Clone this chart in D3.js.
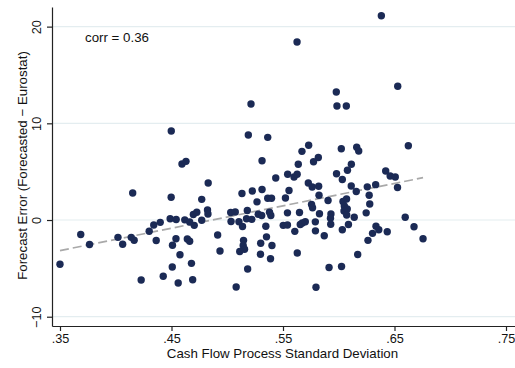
<!DOCTYPE html>
<html>
<head>
<meta charset="utf-8">
<style type="text/css">
  body { margin: 0; background: #fff; }
  svg { display: block; font-family: "Liberation Sans", Arial, Helvetica, sans-serif; }
  .axis path, .axis line { fill: none; stroke: #222; stroke-width: 1.2; }
  .axis text { font-size: 12.7px; fill: #111; }
  .grid line { stroke: #e4edf0; stroke-width: 1.2; }
  .dot { fill: #1b2a55; }
  .fit { fill: none; stroke: #a9a9a9; stroke-width: 1.7; stroke-dasharray: 9,4; }
</style>
</head>
<body>
<div class="svg_container"></div>
<script src="https://cdnjs.cloudflare.com/ajax/libs/d3/7.8.5/d3.min.js"></script>
<script type="text/javascript">
// cash flow process standard deviation (x)
var sdValues = [
  .350,.3686,.3765,.4020,.4062,.4139,.4165,.4152,.4228,.4300,
  .4341,.4363,.4399,.4426,.4497,.4488,.4542,.4540,.4509,.4576,
  .4507,.4560,.4619,.4642,.4663,.4679,.4690,.4696,.4727,.4704,
  .4663,.4498,.4594,.4630,.4771,.4829,.4823,.4827,.4771,.4914,
  .4935,.5080,.5031,.5072,.5034,.5105,.5132,.5225,.5137,.5180,
  .5173,.5220,.5146,.5143,.5155,.5112,.5183,.5267,.5278,.5309,
  .5300,.5298,.5213,.5189,.5363,.5312,.5312,.5363,.5397,.5379,
  .5391,.5346,.5352,.5401,.5388,.5435,.5542,.5522,.5554,.5540,
  .5502,.5540,.5599,.5627,.5626,.5730,.5670,.5637,.5774,.5817,
  .5727,.5762,.5820,.5823,.5904,.5756,.5765,.5648,.5827,.5655,
  .5673,.5700,.5606,.5628,.5796,.5790,.5791,.5870,.5930,.5926,
  .5928,.5913,.6025,.6170,.5978,.5984,.6068,.6023,.6161,.6179,
  .6113,.6078,.5980,.6032,.6112,.6157,.6038,.6070,.6050,.6076,
  .6047,.6071,.6139,.6032,.6087,.6246,.6256,.6331,.6273,.6278,
  .6334,.6359,.6303,.6262,.6421,.6461,.6507,.6527,.6435,.6596,
  .6675,.6756,.6382,.6529,.6624
];

// forecast error, forecasted - eurostat (y)
var errValues = [
  -4.58,-1.50,-2.53,-1.79,-2.50,-1.79,-2.09,2.79,-6.20,-1.16,
  -0.52,-2.12,-0.24,-5.81,2.35,0.13,0.05,-1.93,-2.61,-3.59,
  -4.86,-6.51,0.02,-1.96,-2.19,-4.48,-6.17,0.57,0.80,-0.55,
  -0.21,9.20,5.79,6.07,2.14,3.83,1.03,0.62,-0.02,-1.55,
  -3.21,-6.93,0.78,0.83,-0.16,-0.18,2.74,3.00,-0.67,0.98,
  0.13,0.07,-2.10,-2.64,-3.02,-3.26,-5.07,1.88,0.59,0.47,
  -2.40,-3.54,12.00,8.79,8.55,6.13,3.15,2.25,2.25,0.81,
  0.47,-0.65,-1.74,-2.64,-4.01,4.34,4.73,2.28,3.05,0.74,
  -0.55,-0.52,4.45,4.74,18.41,7.74,7.10,5.76,6.02,6.46,
  3.83,3.41,3.49,2.56,2.02,1.60,1.27,0.78,0.65,-0.47,
  -0.31,-0.18,-1.17,-3.41,-6.96,-0.19,-1.12,-1.62,0.62,0.18,
  -0.44,-4.91,-4.81,-3.57,13.24,11.79,11.79,7.37,7.53,7.14,
  5.77,5.15,4.79,4.19,3.52,2.95,1.91,2.17,1.45,1.14,
  0.93,0.52,0.28,-1.01,-0.46,0.74,3.43,3.66,2.56,1.65,
  -0.64,-1.00,-1.38,-2.10,5.07,4.55,4.45,3.36,-1.21,0.28,
  -0.70,-1.93,21.13,13.83,7.68
];

var xTicks = [.35, .45, .55, .65, .75];
var yTicks = [-10, 0, 10, 20];
var corrLabel = "corr = 0.36";
var xTitle = "Cash Flow Process Standard Deviation";
var yTitle = "Forecast Error (Forecasted \u2212 Eurostat)";

var width = 515, height = 368;
var plot = { left: 52, right: 515, top: 7, bottom: 326 };

var svg = d3.select(".svg_container").append("svg")
  .attr("width", width)
  .attr("height", height);

// scales (axis runs a little past the outer ticks, like stata)
var x = d3.scaleLinear()
  .domain([0.34283, 0.75807])
  .range([plot.left, plot.right]);
var y = d3.scaleLinear()
  .domain([-10.96, 22.03])
  .range([plot.bottom, plot.top]);

var data = sdValues.map(function(d, i) { return { sd: d, err: errValues[i] }; });

// gridlines
svg.append("g").attr("class", "grid")
  .selectAll("line")
  .data(yTicks)
  .enter().append("line")
  .attr("x1", plot.left).attr("x2", plot.right)
  .attr("y1", function(d) { return y(d); })
  .attr("y2", function(d) { return y(d); });

// linear fit
var mx = d3.mean(sdValues), my = d3.mean(errValues);
var sxy = d3.sum(data, function(d) { return (d.sd - mx) * (d.err - my); });
var sxx = d3.sum(data, function(d) { return (d.sd - mx) * (d.sd - mx); });
var slope = sxy / sxx, icpt = my - slope * mx;
var ext = d3.extent(sdValues);

svg.append("line")
  .attr("class", "fit")
  .attr("x1", x(ext[0])).attr("y1", y(icpt + slope * ext[0]))
  .attr("x2", x(ext[1])).attr("y2", y(icpt + slope * ext[1]));

// points
svg.selectAll(".dot")
  .data(data)
  .enter().append("circle")
  .attr("class", "dot")
  .attr("cx", function(d) { return x(d.sd); })
  .attr("cy", function(d) { return y(d.err); })
  .attr("r", 3.7);

// x axis
svg.append("g")
  .attr("class", "axis")
  .attr("transform", "translate(0," + plot.bottom + ")")
  .call(d3.axisBottom(x)
    .tickValues(xTicks)
    .tickSize(5)
    .tickSizeOuter(0)
    .tickFormat(function(d) { return d3.format(".2f")(d).replace(/^0/, ""); }));

// y axis, labels turned like stata
var yAxis = svg.append("g")
  .attr("class", "axis")
  .attr("transform", "translate(" + plot.left + ",0)")
  .call(d3.axisLeft(y)
    .tickValues(yTicks)
    .tickSize(5)
    .tickSizeOuter(0)
    .tickFormat(function(d) { return d < 0 ? "\u2212" + Math.abs(d) : d; }));

yAxis.selectAll(".tick text")
  .attr("x", 0)
  .attr("y", -11)
  .attr("dy", 0)
  .attr("text-anchor", "middle")
  .attr("transform", "rotate(-90)");

// titles
svg.append("text")
  .attr("x", 282.5)
  .attr("y", 358)
  .attr("text-anchor", "middle")
  .style("font-size", "13.3px")
  .style("fill", "#111")
  .text(xTitle);

svg.append("text")
  .attr("transform", "translate(27,165.5) rotate(-90)")
  .attr("text-anchor", "middle")
  .style("font-size", "13.3px")
  .style("fill", "#111")
  .text(yTitle);

svg.append("text")
  .attr("x", 85)
  .attr("y", 42.3)
  .style("font-size", "13.3px")
  .style("fill", "#111")
  .text(corrLabel);
</script>
</body>
</html>
